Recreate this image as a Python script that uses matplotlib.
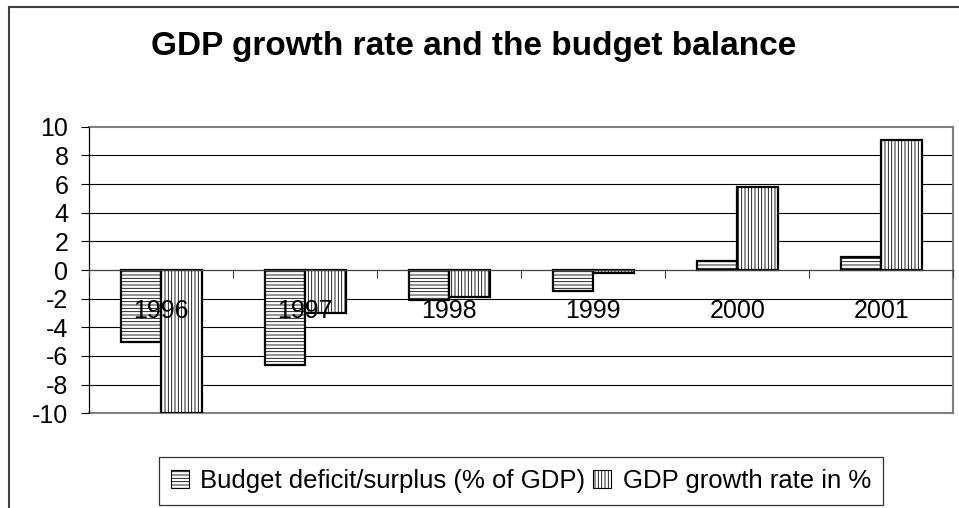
import numpy as np
import matplotlib
matplotlib.use('Agg')
import matplotlib.pyplot as plt
from matplotlib.lines import Line2D

plt.rcParams['font.family'] = ['Liberation Sans', 'DejaVu Sans']
plt.rcParams['hatch.linewidth'] = 0.6
plt.rcParams['hatch.color'] = '#333333'

# Данные
years = ['1996', '1997', '1998', '1999', '2000', '2001']
budget_balance = [-5.0, -6.6, -2.1, -1.5, 0.6, 0.9]
gdp_growth = [-10.0, -3.0, -1.9, -0.2, 5.8, 9.1]
y_ticks = [-10, -8, -6, -4, -2, 0, 2, 4, 6, 8, 10]

W, H = 959, 508
fig = plt.figure(figsize=(W / 100, H / 100), dpi=100)
ax = fig.add_axes([89.3 / W, 1 - 413.3 / H, (953.3 - 89.3) / W, (413.3 - 126.7) / H])

x = np.arange(len(years))
bw = 0.283
ax.bar(x - bw / 2, budget_balance, bw, facecolor='white', edgecolor='black',
       linewidth=1.6, hatch='-----', zorder=2, label='Budget deficit/surplus (% of GDP)')
ax.bar(x + bw / 2, gdp_growth, bw, facecolor='white', edgecolor='black',
       linewidth=1.6, hatch='|||||', zorder=2, label='GDP growth rate in %')

# линии сетки под столбцами
for t in y_ticks[1:-1]:
    if t != 0:
        ax.axhline(t, color='black', linewidth=0.8, zorder=0.5)

ax.set_xlim(-0.5, len(years) - 0.5)
ax.set_ylim(-10, 10)
ax.set_yticks(y_ticks)
ax.set_yticklabels([str(t) for t in y_ticks])
ax.tick_params(axis='y', direction='out', length=6, width=0.8, pad=9, labelsize=18)

ax.spines['bottom'].set_position(('data', 0))
ax.spines['bottom'].set_color('#404040')
ax.spines['bottom'].set_linewidth(0.9)
ax.spines['left'].set_color('black')
ax.spines['left'].set_linewidth(0.9)
ax.spines['top'].set_color('#808080')
ax.spines['right'].set_color('#808080')
ax.spines['top'].set_linewidth(1.5)
ax.spines['right'].set_linewidth(1.5)
ax.set_axisbelow(False)

ax.set_xticks(x)
ax.set_xticklabels(years)
ax.set_xticks(np.arange(-0.5, len(years)), minor=True)
ax.tick_params(axis='x', which='major', length=0, pad=21, labelsize=18)
ax.tick_params(axis='x', which='minor', direction='out', length=6, width=0.8, color='#404040')

# нижняя граница области построения
ax.axhline(-10, color='#808080', linewidth=1.5, zorder=0.6, clip_on=False)

fig.text(474 / W, 1 - 46 / H, 'GDP growth rate and the budget balance',
         ha='center', va='center', fontsize=24, fontweight='bold')

leg = fig.legend(loc='center', bbox_to_anchor=(521 / W, 1 - 481 / H), ncol=2,
                 fontsize=18.5, frameon=True, fancybox=False, shadow=False,
                 handlelength=0.7, handleheight=0.7, handletextpad=0.45,
                 columnspacing=0.3, borderpad=0.45, borderaxespad=0)
leg.get_frame().set_edgecolor('black')
leg.get_frame().set_linewidth(0.9)
for h in leg.legend_handles:
    h.set_linewidth(0.8)

# рамка диаграммы
fig.add_artist(Line2D([9 / W, 9 / W], [0, 1 - 7 / H], color='#404040', linewidth=1.5))
fig.add_artist(Line2D([9 / W, 1], [1 - 7 / H, 1 - 7 / H], color='#404040', linewidth=1.5))

fig.savefig('out.png', dpi=100)
